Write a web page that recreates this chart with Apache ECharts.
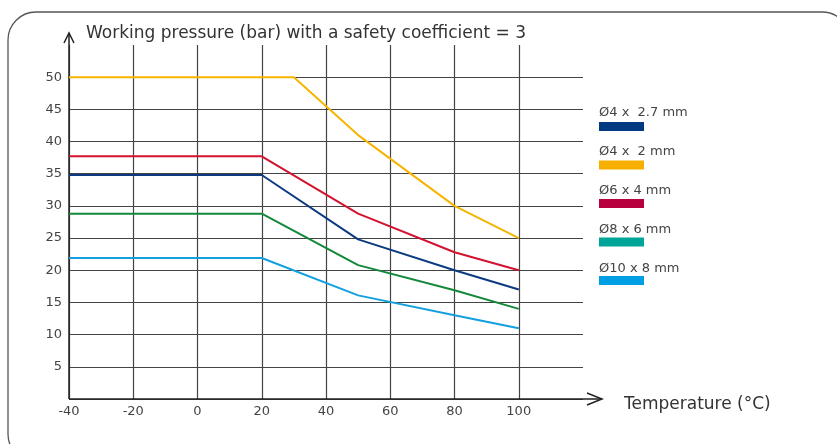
<!DOCTYPE html>
<html>
<head>
<meta charset="utf-8">
<title>Working pressure</title>
<script src="https://cdn.jsdelivr.net/npm/echarts@6/dist/echarts.min.js"></script>
<style>
  html, body { margin: 0; padding: 0; background: #fff; }
  #chart { width: 837px; height: 444px; }
</style>
</head>
<body>
<div id="chart"></div>
<script>
// temperature (°C) of each break point
var tempStd = [-40, 20, 50, 80, 100];
var tempYellow = [-40, 30, 50, 80, 100];
// working pressure (bar)
var p4x27 = [34.8, 34.8, 24.8, 20, 17];
var p4x2 = [50, 50, 41, 30, 25];
var p6x4 = [37.7, 37.7, 28.8, 22.8, 20];
var p8x6 = [28.8, 28.8, 20.8, 16.9, 14];
var p10x8 = [21.9, 21.9, 16.1, 13, 11];

var names = ['Ø4 x  2.7 mm', 'Ø4 x  2 mm', 'Ø6 x 4 mm', 'Ø8 x 6 mm', 'Ø10 x 8 mm'];
var lineColors = ['#0c3a80', '#f7b500', '#d3122e', '#14883a', '#14a0e0'];
var swatchColors = ['#003a80', '#f8b000', '#b8003e', '#00a598', '#009fe3'];

var font = 'DejaVu Sans';
var gridCol = '#444';

function pairs(xs, ys) {
  var out = [];
  for (var i = 0; i < xs.length; i++) out.push([xs[i], ys[i]]);
  return out;
}

var seriesData = [
  pairs(tempStd, p4x27),
  pairs(tempYellow, p4x2),
  pairs(tempStd, p6x4),
  pairs(tempStd, p8x6),
  pairs(tempStd, p10x8)
];

var series = [];
for (var i = 0; i < names.length; i++) {
  series.push({
    name: names[i],
    type: 'line',
    data: seriesData[i],
    symbol: 'none',
    color: lineColors[i],
    lineStyle: { width: 2, color: lineColors[i] }
  });
}

var ySplit = [];
for (var k = 0; k < 11; k++) ySplit.push(gridCol);
ySplit.push('rgba(0,0,0,0)');
var xSplit = [];
for (var k = 0; k < 8; k++) xSplit.push(gridCol);
xSplit.push('rgba(0,0,0,0)');

var chart = echarts.init(document.getElementById('chart'));
var option = {
  animation: false,
  title: {
    text: 'Working pressure (bar) with a safety coefficient = 3',
    left: 86,
    top: 25,
    padding: 0,
    textStyle: { fontFamily: font, fontSize: 17, fontWeight: 'normal', color: '#333' }
  },
  legend: [{
    data: names,
    orient: 'vertical',
    left: 594,
    top: 106,
    padding: 0,
    icon: 'none',
    itemWidth: 0,
    itemHeight: 14,
    itemGap: 25,
    selectedMode: false,
    textStyle: { fontFamily: font, fontSize: 13, color: '#444', lineHeight: 14 }
  }, {
    data: names.map(function (n, i) { return { name: n, itemStyle: { color: swatchColors[i] } }; }),
    orient: 'vertical',
    left: 599,
    top: 122,
    padding: 0,
    icon: 'rect',
    itemWidth: 45,
    itemHeight: 9,
    itemGap: 29.5,
    selectedMode: false,
    formatter: function () { return ''; },
    textStyle: { fontSize: 9, lineHeight: 9 }
  }],
  grid: { left: 69, right: 254, top: 45, bottom: 45 },
  xAxis: {
    type: 'value',
    min: -40,
    max: 120,
    interval: 20,
    name: 'Temperature (°C)',
    nameLocation: 'end',
    nameGap: 41,
    nameTextStyle: { fontFamily: font, fontSize: 17, color: '#333', verticalAlign: 'top', lineHeight: 12 },
    axisLine: { show: false },
    axisTick: { show: false },
    axisLabel: {
      fontFamily: font, fontSize: 13, color: '#444', margin: 6,
      formatter: function (v) { return v === 120 ? '' : v; }
    },
    splitLine: { show: true, lineStyle: { color: xSplit, width: 1.2 } }
  },
  yAxis: {
    type: 'value',
    min: 0,
    max: 55,
    interval: 5,
    axisLine: { show: false },
    axisTick: { show: false },
    axisLabel: {
      fontFamily: font, fontSize: 13, color: '#444', margin: 7,
      formatter: function (v) { return (v === 0 || v === 55) ? '' : v; }
    },
    splitLine: { show: true, lineStyle: { color: ySplit, width: 1.2 } }
  },
  series: series
};
chart.setOption(option);

// axis lines with open arrow heads and the rounded frame
var o = chart.convertToPixel({ gridIndex: 0 }, [-40, 0]);
var xEnd = chart.convertToPixel({ gridIndex: 0 }, [120, 0])[0] + 19;
var yEnd = chart.convertToPixel({ gridIndex: 0 }, [-40, 55])[1] - 12;
var axisStyle = { stroke: '#222', lineWidth: 1.5, fill: null };
chart.setOption({
  graphic: [
    { type: 'rect', silent: true, shape: { x: 8, y: 12, width: 842, height: 450, r: 28 },
      style: { stroke: '#555', lineWidth: 1.3, fill: null } },
    { type: 'polyline', silent: true, shape: { points: [[o[0], o[1]], [xEnd, o[1]]] }, style: axisStyle },
    { type: 'polyline', silent: true, shape: { points: [[xEnd - 15, o[1] - 6], [xEnd, o[1]], [xEnd - 15, o[1] + 6]] }, style: axisStyle },
    { type: 'polyline', silent: true, shape: { points: [[o[0], o[1]], [o[0], yEnd]] }, style: axisStyle },
    { type: 'polyline', silent: true, shape: { points: [[o[0] - 5, yEnd + 10], [o[0], yEnd], [o[0] + 5, yEnd + 10]] }, style: axisStyle }
  ]
});
</script>
</body>
</html>
